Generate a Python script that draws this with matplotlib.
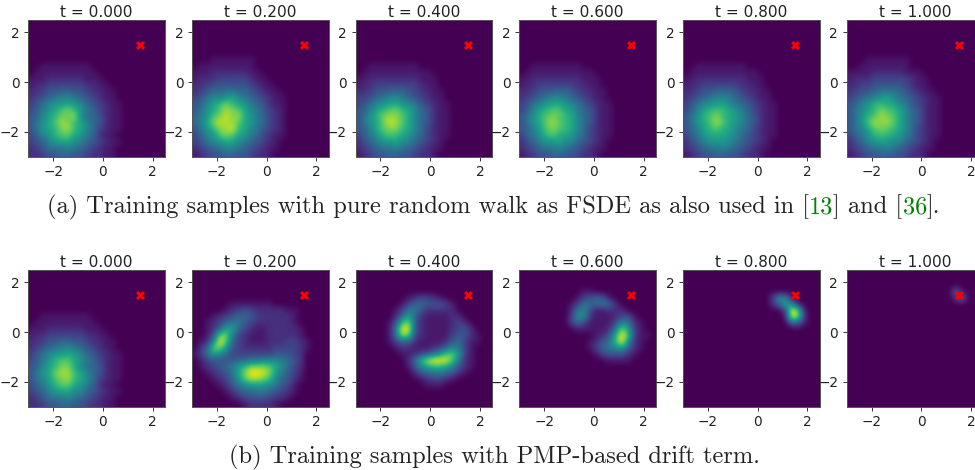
import numpy as np
import matplotlib
matplotlib.use('Agg')
import matplotlib.pyplot as plt

# picture density read by eye: one hex digit per 0.25 x 0.25 cell (0 = empty, f = peak)
# rows go from y = 2.5 down to y = -3, columns from x = -3 to 2.5, short rows end in zeros
a_t000 = ["", "", "", "", "", "", "", "0011111111", "01111111111", "111222222111",
          "12233333322110", "223445544322110", "2345677654321100", "3467889875432110",
          "35689bca86532110", "4579acbd75542110", "4689bdca97542110", "4689acda97532110",
          "3578abb986521100", "3457899775432110", "2346667654321100", "2234455443221100"]
a_t020 = ["", "", "", "", "", "", "0001111111", "0111111111", "11122222211", "122233333211",
          "22344444432110", "234556655432110", "3467789765432110", "4579aca986542110",
          "4689bdcb97643210", "568bcecd98653210", "579ceddb98653210", "468acdea97643210",
          "3578bcb986532110", "3467899765432100", "2345677654321100", "1234455443221000"]
a_t040 = ["", "", "", "", "", "", "", "0011111111", "011111111111", "1122222222111",
          "12233333332110", "223445554322110", "3345677654321100", "3467899876432110",
          "4579abca97542110", "468acdcb97542110", "4689cedb97542110", "457abcca97532110",
          "3568aba986532110", "2457889775432100", "2345667654321100", "1234455443221000"]
a_t060 = ["", "", "", "", "", "", "", "0011111111", "011111111111", "1122222222111",
          "12233333322110", "223445554322110", "2345677654321100", "3467899876432110",
          "3579abb986542110", "468abcba97542110", "4689cdba97542110", "4579bcba97532110",
          "3568ab9986532110", "2457889775432100", "2345667654321100", "1234455443221000"]
a_t080 = ["", "", "", "", "", "", "", "0011111111", "011111111111", "1122222222111",
          "12233333322110", "223445554322110", "2345677654321100", "3467889765432110",
          "3579aba986532110", "468abca987542110", "4689bdb987542110", "4579ab9976532110",
          "3568999875432110", "2457888765432100", "2345667654321100", "1234455443221000"]
a_t100 = ["", "", "", "", "", "", "0001111111", "0011111111", "111122222111", "12223333332110",
          "22334444432110", "234456665432110", "3456789765432110", "4578aa9976432110",
          "4679acba97542110", "468abdcb97542110", "468bdcdb97542110", "4679bcba97532110",
          "3568aaa986532110", "2457898775432100", "2345667654321100", "1234455443221000"]

b_t000 = ["", "", "", "", "", "", "", "0011111111", "01111111111", "111222222111",
          "12233333322110", "223445544322110", "2345677654321100", "3467889875432110",
          "3568abb986532110", "4579acc975542110", "4689cdda97542110", "4679bcda97532110",
          "3568abb986521100", "3457899775432110", "2346667654321100", "2234455443221100"]
b_t020 = ["", "", "", "", "", "0000001111111", "00000123432222211", "00012345543222221",
          "00123566432222221", "001259953211222221", "0014cc632111222221",
          "0127fb5321112223321", "025cc84322222333321", "136875333333344432",
          "013444455667776542", "01234568acccb97532", "00123469cffec86431",
          "00012358bddca75421", "00001246788876431", "00000124556654321",
          "0000001234443221", "00000000122221"]
b_t040 = ["", "", "", "", "00000000123321", "0000000135544431", "0000001366422222",
          "00000026952111122", "0000014bc421111232", "0000017fe4211112342",
          "0000016db32111134421", "00000135421111245311", "0000001221112357631",
          "00000001123468bb831", "0000000025adffeb621", "00000000147" + "9aa97421",
          "000000000245665421", "0000000000123321", "00000000000111", "", "", ""]
b_t060 = ["", "", "", "0000000000110", "000000000134541", "0000000013655652",
          "00000000267311222", "0000000038721112341", "00000000353111137621",
          "0000000001111126c931", "0000000000001249fb311", "000000000001246af821",
          "00000000000135678521", "0000000000001344421", "000000000000001111",
          "", "", "", "", "", "", ""]
b_t080 = ["", "", "", "", "000000000000003871", "0000000000000025971",
          "00000000000000003fc1", "00000000000000001fc2", "00000000000000000441",
          "", "", "", "", "", "", "", "", "", "", "", "", ""]
b_t100 = ["", "", "", "0000000000000000051", "0000000000000000025", "", "", "", "", "", "",
          "", "", "", "", "", "", "", "", "", "", ""]

titles = ["t = 0.000", "t = 0.200", "t = 0.400", "t = 0.600", "t = 0.800", "t = 1.000"]
row_a = [a_t000, a_t020, a_t040, a_t060, a_t080, a_t100]
row_b = [b_t000, b_t020, b_t040, b_t060, b_t080, b_t100]
target = (1.5, 1.5)
ticks = [-2, 0, 2]

caption_a = [("(a) Training samples with pure random walk as FSDE as also used in [", "#222222"),
             ("13", "#008000"), ("] and [", "#222222"), ("36", "#008000"), ("].", "#222222")]
caption_b = [("(b) Training samples with PMP-based drift term.", "#222222")]


def to_grid(rows):
    out = np.zeros((22, 22))
    for i, r in enumerate(rows):
        r = r.ljust(22, '0')[:22]
        out[i] = [int(ch, 16) for ch in r]
    return out


W, H = 975, 470
fig = plt.figure(figsize=(W / 100, H / 100), dpi=100)

lefts = [28.3, 191.9, 355.6, 519.3, 683.0, 846.7]
tops = [20, 270]
size = 136.8

for top, grids in zip(tops, [row_a, row_b]):
    for x0, grid, title in zip(lefts, grids, titles):
        ax = fig.add_axes([x0 / W, 1 - (top + size) / H, size / W, size / H])
        ax.imshow(to_grid(grid), cmap='viridis', vmin=0, vmax=15, extent=(-3, 2.5, -3, 2.5),
                  origin='upper', aspect='auto', interpolation='bicubic')
        ax.scatter([target[0]], [target[1]], marker='x', c='red', s=24, linewidths=2.2, zorder=3)
        ax.set_xlim(-3, 2.5)
        ax.set_ylim(-3, 2.5)
        ax.set_xticks(ticks)
        ax.set_yticks(ticks)
        ax.tick_params(labelsize=9.8, length=3.2, width=0.7, pad=3, color='#333333', labelcolor='#222222')
        for s in ax.spines.values():
            s.set_linewidth(0.7)
            s.set_color('#555555')
        ax.set_title(title, fontsize=11.1, pad=2.5, color='#222222')

renderer = fig.canvas.get_renderer()
cap_size = 17.6


def text_width(s):
    t = fig.text(0, 0, s + '|', family='cmr10', fontsize=cap_size)
    w = t.get_window_extent(renderer).width
    t.set_text('|')
    w -= t.get_window_extent(renderer).width
    t.remove()
    return w


def caption(pieces, x, y):
    # colour changes inside a line, so each piece is placed after the one before
    for s, col in pieces:
        fig.text(x / W, 1 - y / H, s, family='cmr10', fontsize=cap_size, color=col, va='baseline')
        x += text_width(s)


caption(caption_a, 47, 213)
caption(caption_b, 229, 463)

fig.savefig('out.png', dpi=100)
